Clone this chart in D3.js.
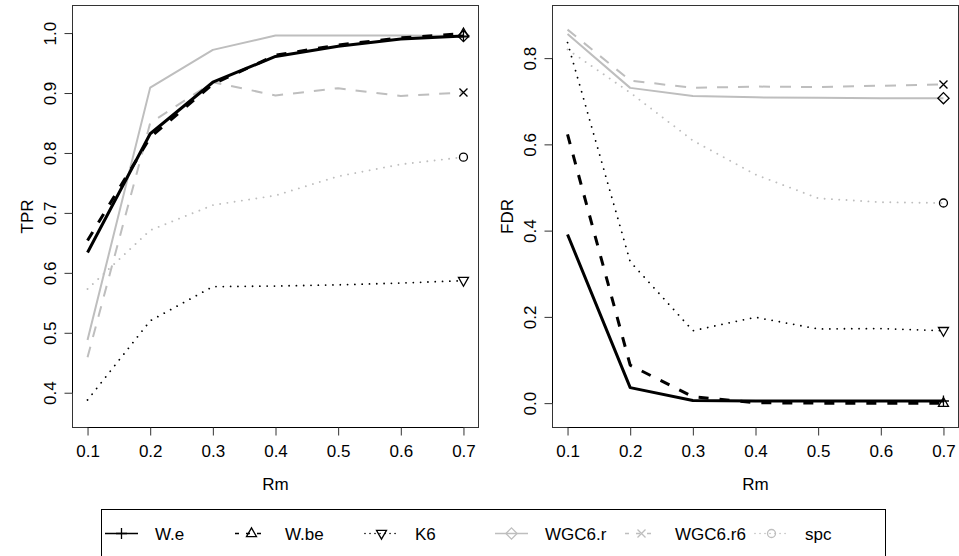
<!DOCTYPE html>
<html>
<head>
<meta charset="utf-8">
<script src="https://cdnjs.cloudflare.com/ajax/libs/d3/7.8.5/d3.min.js"></script>
<style>
  html, body { margin: 0; padding: 0; background: #fff; }
  svg { display: block; font-family: "Liberation Sans", Arial, Helvetica, sans-serif; }
</style>
</head>
<body>
<svg id="chart" width="959" height="556"></svg>
<script>
// ---- data ----
const rm = [0.1, 0.2, 0.3, 0.4, 0.5, 0.6, 0.7];
const seriesNames = ["W.e", "W.be", "K6", "WGC6.r", "WGC6.r6", "spc"];

const tprWe     = [0.634, 0.832, 0.918, 0.961, 0.978, 0.990, 0.995];
const tprWbe    = [0.654, 0.826, 0.915, 0.963, 0.980, 0.992, 0.999];
const tprK6     = [0.388, 0.520, 0.577, 0.578, 0.580, 0.583, 0.587];
const tprWGCr   = [0.488, 0.909, 0.972, 0.996, 0.996, 0.996, 0.995];
const tprWGCr6  = [0.459, 0.850, 0.918, 0.896, 0.908, 0.895, 0.901];
const tprSpc    = [0.573, 0.671, 0.713, 0.729, 0.761, 0.781, 0.793];

const fdrWe     = [0.391, 0.036, 0.006, 0.005, 0.005, 0.005, 0.005];
const fdrWbe    = [0.623, 0.088, 0.015, 0.001, 0.000, 0.000, 0.000];
const fdrK6     = [0.836, 0.328, 0.168, 0.199, 0.172, 0.173, 0.168];
const fdrWGCr   = [0.856, 0.731, 0.712, 0.709, 0.708, 0.707, 0.707];
const fdrWGCr6  = [0.866, 0.748, 0.731, 0.734, 0.733, 0.736, 0.739];
const fdrSpc    = [0.820, 0.720, 0.609, 0.530, 0.475, 0.466, 0.464];

const xTicks = [0.1, 0.2, 0.3, 0.4, 0.5, 0.6, 0.7];
const tprTicks = [0.4, 0.5, 0.6, 0.7, 0.8, 0.9, 1.0];
const fdrTicks = [0.0, 0.2, 0.4, 0.6, 0.8];

// ---- styles ----
const GRAY = "#bebebe";
const styles = {
  "W.e":     {color: "#000", width: 3,   dash: null,      legDash: null,     dotted: false, shape: "plus"},
  "W.be":    {color: "#000", width: 3,   dash: "10,11",   legDash: "4,7",    dotted: false, shape: "triUp"},
  "K6":      {color: "#000", width: 1.8, dash: "0.01,7.3",legDash: "0.01,5", dotted: true,  shape: "triDown"},
  "WGC6.r":  {color: GRAY,   width: 2,   dash: null,      legDash: null,     dotted: false, shape: "diamond"},
  "WGC6.r6": {color: GRAY,   width: 2,   dash: "11,10",   legDash: "4,7",    dotted: false, shape: "cross"},
  "spc":     {color: GRAY,   width: 1.9, dash: "0.01,7.3",legDash: "0.01,5", dotted: true,  shape: "circle"}
};

const svg = d3.select("#chart");
const FONT = 17;

function marker(g, shape, cx, cy, color) {
  const s = g.append("g").attr("transform", `translate(${cx},${cy})`)
    .attr("fill", "none").attr("stroke", color).attr("stroke-width", 1.3);
  if (shape === "plus") {
    s.append("path").attr("d", "M-5.5,0H5.5M0,-5.5V5.5");
  } else if (shape === "triUp") {
    s.append("path").attr("d", "M0,-5.6L5,3.2L-5,3.2Z");
  } else if (shape === "triDown") {
    s.append("path").attr("d", "M0,5.6L5,-3.2L-5,-3.2Z");
  } else if (shape === "diamond") {
    s.append("path").attr("d", "M0,-5.6L5.6,0L0,5.6L-5.6,0Z");
  } else if (shape === "cross") {
    s.append("path").attr("d", "M-4,-4L4,4M-4,4L4,-4");
  } else if (shape === "circle") {
    s.append("circle").attr("r", 4);
  }
}

function panel(opts) {
  const {left, right, top, bottom, ylim, yTicks, yFmt, ylab, series} = opts;
  const x = d3.scaleLinear().domain([0.076, 0.724]).range([left, right]);
  const y = d3.scaleLinear().domain(ylim).range([bottom, top]);
  const g = svg.append("g");

  // lines: gray first, black on top
  const order = ["WGC6.r", "WGC6.r6", "spc", "K6", "W.be", "W.e"];
  const line = d3.line().x((d, i) => x(rm[i])).y(d => y(d));
  order.forEach(name => {
    const st = styles[name];
    g.append("path").datum(series[name]).attr("d", line)
      .attr("fill", "none").attr("stroke", st.color).attr("stroke-width", st.width)
      .attr("stroke-dasharray", st.dash).attr("stroke-linejoin", "round")
      .attr("stroke-linecap", st.dotted ? "round" : "butt");
  });
  // end markers (black)
  seriesNames.forEach(name => {
    const vals = series[name];
    marker(g, styles[name].shape, x(rm[rm.length - 1]), y(vals[vals.length - 1]), "#000");
  });

  // box
  g.append("rect").attr("x", left).attr("y", top)
    .attr("width", right - left).attr("height", bottom - top)
    .attr("fill", "none").attr("stroke", "#333").attr("stroke-width", 1);

  // x axis
  const xa = g.append("g").attr("transform", `translate(0,${bottom})`)
    .call(d3.axisBottom(x).tickValues(xTicks).tickSize(8).tickSizeOuter(0).tickFormat(d3.format(".1f")));
  xa.select(".domain").attr("d", `M${x(xTicks[0])},0H${x(xTicks[xTicks.length-1])}`);
  xa.selectAll("line").attr("stroke", "#333");
  xa.selectAll("text").attr("y", 29.5).attr("dy", null)
    .attr("font-size", FONT).attr("font-family", "Liberation Sans, Arial, sans-serif").attr("fill", "#000");

  // y axis
  const ya = g.append("g").attr("transform", `translate(${left},0)`)
    .call(d3.axisLeft(y).tickValues(yTicks).tickSize(8).tickSizeOuter(0).tickFormat(yFmt));
  ya.select(".domain").attr("d", `M0,${y(yTicks[0])}V${y(yTicks[yTicks.length-1])}`);
  ya.selectAll("line").attr("stroke", "#333");
  ya.selectAll("text").attr("x", null).attr("dy", null).attr("y", null)
    .attr("text-anchor", "middle")
    .attr("transform", "translate(-16.5,0) rotate(-90)")
    .attr("font-size", FONT).attr("font-family", "Liberation Sans, Arial, sans-serif").attr("fill", "#000");

  // axis titles
  g.append("text").attr("x", (left + right) / 2).attr("y", 489.5)
    .attr("text-anchor", "middle").attr("font-size", FONT).text("Rm");
  g.append("text").attr("transform", `translate(${left - 39.5},${(top + bottom) / 2}) rotate(-90)`)
    .attr("text-anchor", "middle").attr("font-size", FONT).text(ylab);
}

panel({
  left: 72.5, right: 478.5, top: 5.5, bottom: 427.5,
  ylim: [0.342, 1.046], yTicks: tprTicks, yFmt: d3.format(".1f"), ylab: "TPR",
  series: {"W.e": tprWe, "W.be": tprWbe, "K6": tprK6, "WGC6.r": tprWGCr, "WGC6.r6": tprWGCr6, "spc": tprSpc}
});
panel({
  left: 552.5, right: 958.5, top: 5.5, bottom: 427.5,
  ylim: [-0.0565, 0.922], yTicks: fdrTicks, yFmt: d3.format(".1f"), ylab: "FDR",
  series: {"W.e": fdrWe, "W.be": fdrWbe, "K6": fdrK6, "WGC6.r": fdrWGCr, "WGC6.r6": fdrWGCr6, "spc": fdrSpc}
});

// ---- legend ----
const leg = svg.append("g");
leg.append("rect").attr("x", 101.5).attr("y", 509.5).attr("width", 784).attr("height", 60)
  .attr("fill", "none").attr("stroke", "#000").attr("stroke-width", 1);
const legY = 533.5;
seriesNames.forEach((name, i) => {
  const st = styles[name];
  const lx = 155 + i * 130;
  leg.append("line").attr("x1", lx - 50).attr("x2", lx - 17).attr("y1", legY).attr("y2", legY)
    .attr("stroke", st.color).attr("stroke-width", st.dotted ? 1.6 : 1.5).attr("stroke-dasharray", st.legDash)
    .attr("stroke-linecap", st.dotted ? "round" : "butt");
  marker(leg, st.shape, lx - 33.5, legY, st.color);
  leg.append("text").attr("x", lx).attr("y", legY + 6).attr("font-size", FONT).text(name);
});
</script>
</body>
</html>
